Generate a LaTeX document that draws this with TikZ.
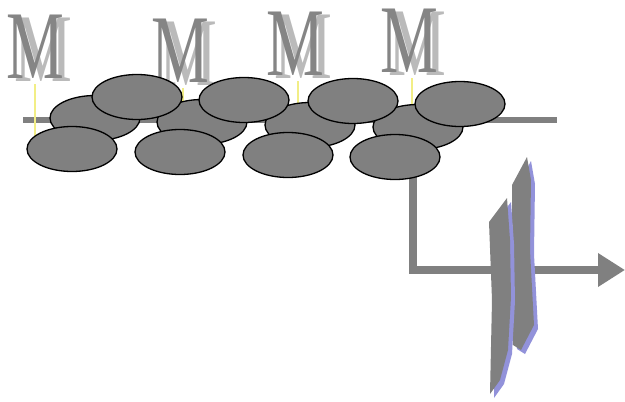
\documentclass[tikz,border=0pt]{standalone}
\usepackage{fontspec}
\setmainfont{Liberation Serif}
\usepackage{graphicx}
\usetikzlibrary{shapes.geometric,arrows.meta,backgrounds}
\definecolor{blobgray}{HTML}{808080}
\definecolor{mgray}{HTML}{858585}
\definecolor{mshade}{HTML}{BABABA}
\definecolor{stemyellow}{HTML}{F2EE86}
\definecolor{boltshade}{HTML}{9292DA}
\tikzset{
  blob/.style={ellipse, draw=black, line width=1.3pt, fill=blobgray,
    minimum width=90pt, minimum height=45pt, inner sep=0pt},
  letter/.style={anchor=base, inner sep=0pt, text depth=0pt, text height=64pt,
    font=\fontsize{97}{97}\selectfont},
  rail/.style={draw=blobgray, line width=6pt},
  stem/.style={draw=stemyellow, line width=1.6pt},
  flow/.style={draw=blobgray, line width=8pt, line join=miter,
    -{Triangle[length=27pt,width=32pt]}},
  bolt/.style={fill=blobgray},
  boltshadow/.style={fill=boltshade},
}
\newcommand{\narrowM}{\scalebox{0.67}[1]{M}}
% the two halves of the break mark
\newcommand{\upperhalf}{(527,157) -- (531,180) -- (530,250) -- (534,325)
  -- (521,350) -- (513,345) -- (512,185) -- cycle}
\newcommand{\lowerhalf}{(507,198) -- (510,240) -- (511,297) -- (508,350)
  -- (500,380) -- (490,394) -- (492,300) -- (489,222) -- cycle}
\begin{document}
\begin{tikzpicture}[x=1pt,y=-1pt]
\useasboundingbox (0,0) rectangle (625,402);

% raised letters with a light offset copy behind
\foreach \mx/\my [count=\i] in {35/78, 180/82, 295/75, 409/72} {
  \node[letter, text=mshade] (ms\i) at (\mx+8,\my+3) {\narrowM};
  \node[letter, text=mgray] (m\i) at (\mx,\my) {\narrowM};
}

% middle row of granules
\node[blob] (b1) at (95,118) {};
\node[blob] (b2) at (202,122) {};
\node[blob] (b3) at (310,125) {};
\node[blob] (b4) at (418,127) {};
% lower row
\node[blob] (c1) at (72,149) {};
\node[blob] (c2) at (180,152) {};
\node[blob] (c3) at (288,155) {};
\node[blob] (c4) at (395,157) {};
% upper row
\node[blob] (a1) at (137,97) {};
\node[blob] (a2) at (244,100) {};
\node[blob] (a3) at (353,101) {};
\node[blob] (a4) at (460,104) {};

\coordinate (railL) at (23,120);
\coordinate (railR) at (557,120);
\coordinate (bend) at (413,270);
\coordinate (tip) at (625,270);

\begin{pgfonlayer}{background}
  \draw[rail] (railL) -- (railR);
  \draw[stem] ([yshift=-6pt]m1.base) -- ++(0,53);
  \draw[stem] ([xshift=3pt,yshift=-6pt]m2.base) -- ++(0,30);
  \draw[stem] ([xshift=3pt,yshift=-6pt]m3.base) -- ++(0,33);
  \draw[stem] ([xshift=3pt,yshift=-6pt]m4.base) -- ++(0,38);
  \draw[flow] (c4.center -| bend) |- (tip);
\end{pgfonlayer}

% break mark across the outflow
\fill[boltshadow, shift={(4,4)}] \upperhalf;
\fill[bolt] \upperhalf;
\fill[boltshadow, shift={(4,4)}] \lowerhalf;
\fill[bolt] \lowerhalf;
\end{tikzpicture}
\end{document}
